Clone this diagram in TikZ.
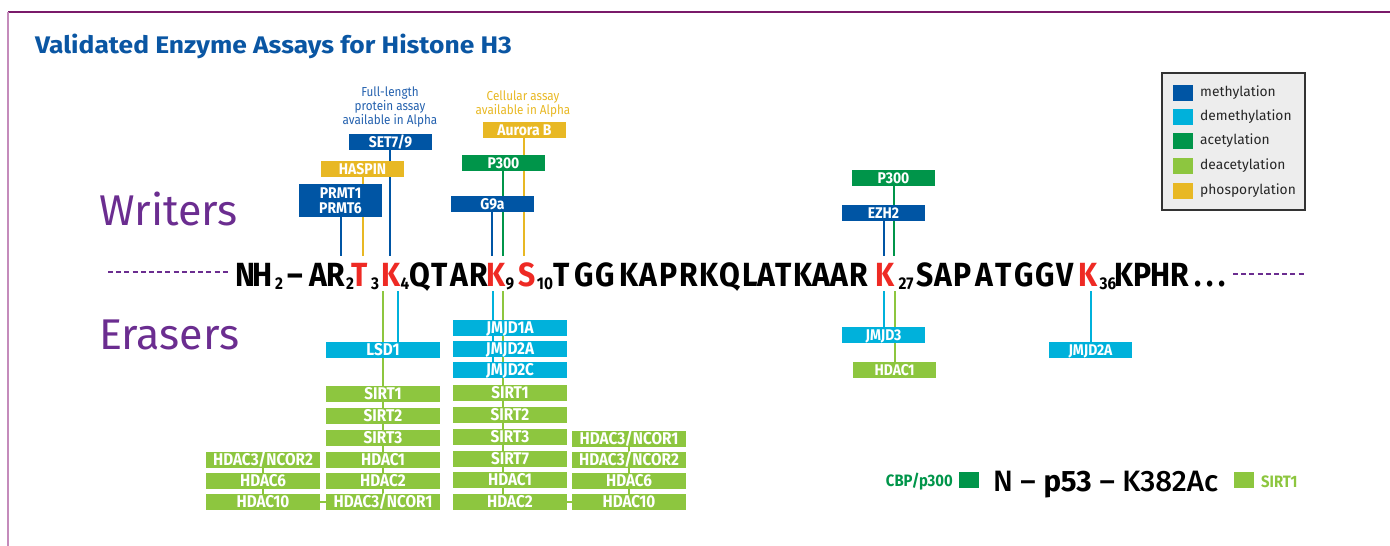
\documentclass[tikz,border=0pt]{standalone}
\usepackage{fontspec}
\setmainfont{Fira Sans}
\newfontfamily\seqf{Fira Sans}[FakeStretch=0.9]
\newfontfamily\labf{Fira Sans}[FakeStretch=0.9]
\newfontfamily\annf{Fira Sans}[FakeStretch=0.9]
\newfontfamily\titf{Fira Sans}[FakeStretch=1.1]
\newfontfamily\medf{Fira Sans Medium}
\usetikzlibrary{backgrounds}
\definecolor{cmeth}{HTML}{0055A4}
\definecolor{cdemeth}{HTML}{00B1DB}
\definecolor{cacet}{HTML}{00954A}
\definecolor{cdeacet}{HTML}{8DC63F}
\definecolor{cphos}{HTML}{E8B824}
\definecolor{cred}{HTML}{EE2A24}
\definecolor{cpurp}{HTML}{6B2D90}
\definecolor{ctitle}{HTML}{0A56A3}
\definecolor{cann}{HTML}{2461AE}
\definecolor{cframe}{HTML}{7A1A6A}
\definecolor{cframel}{HTML}{C48BBB}
\definecolor{clegbg}{HTML}{EDEDED}
\definecolor{cleg}{HTML}{333333}
\begin{document}
\begin{tikzpicture}[x=1pt,y=-1pt,
  lab/.style={rectangle,inner sep=0pt,text=white},
  wbox/.style={lab,minimum width=83pt,minimum height=16pt,font=\labf\bfseries\fontsize{15.5}{15.5}\selectfont,text height=10.7pt,text depth=0pt},
  ebox/.style={lab,minimum width=114pt,minimum height=16pt,font=\labf\bfseries\fontsize{17}{17}\selectfont,text height=11.7pt,text depth=0pt},
  sqn/.style={inner sep=0pt,anchor=base,font=\seqf\bfseries\fontsize{33.5}{33.5}\selectfont},
  sqr/.style={sqn,text=cred},
  sqs/.style={inner sep=0pt,anchor=base,yshift=-3.5pt,font=\seqf\bfseries\fontsize{17}{17}\selectfont},
  conn/.style={line width=1.8pt},
  dashl/.style={cpurp,line width=1.6pt,dash pattern=on 5pt off 3.2pt},
  legsq/.style={rectangle,inner sep=0pt,minimum width=20pt,minimum height=16pt},
  legtx/.style={anchor=west,inner sep=0pt,text=black!85,font=\fontsize{13.8}{14}\selectfont},
  annot/.style={inner sep=0pt,align=center,font=\annf\fontsize{13}{14}\selectfont}
]
\useasboundingbox (0,0) rectangle (1390,546);
% frame
\draw[cframe,line width=1.5pt] (8,12) -- (1390,12);
\draw[cframel,line width=2pt] (8,12) -- (8,546);

% title
\node[anchor=base west,inner sep=0pt,text=ctitle,font=\titf\bfseries\fontsize{24}{24}\selectfont] (title) at (35,53) {Validated Enzyme Assays for Histone H3};

% Writers / Erasers
\node[anchor=base west,inner sep=0pt,text=cpurp,font=\fontsize{43}{43}\selectfont] (writers) at (99,225) {Writers};
\node[anchor=base west,inner sep=0pt,text=cpurp,font=\fontsize{43}{43}\selectfont] (erasers) at (99,349) {Erasers};

% sequence
\foreach \t/\x/\s [count=\i] in {N/245/n,H/263/n,2/279/s,–/295/n,A/318/n,R/336/n,2/350/s,T/360/r,3/375/s,K/391/r,4/405/s,Q/420/n,T/440/n,A/459/n,R/479/n,K/496/r,9/510/s,S/527/r,10/545/s,T/562/n,G/584/n,G/605/n,K/629/n,A/648/n,P/669/n,R/689/n,K/709/n,Q/730/n,L/750/n,A/766/n,T/784/n,K/803/n,A/821/n,A/839/n,R/859/n,K/885/r,27/906/s,S/925/n,A/943/n,P/963/n,A/984/n,T/1004/n,G/1024/n,G/1045/n,V/1065/n,K/1088/r,36/1108/s,K/1124/n,P/1143/n,H/1161/n,R/1180/n}
  {\node[sq\s] (q\i) at (\x,286) {\t};}
\node[sqn] (qdots) at (1210,286) {.\kern5pt.\kern5pt.};

% dashed ends
\coordinate (dlA) at (108,272);
\coordinate (dlB) at (228,272);
\coordinate (drA) at (1233,274);
\coordinate (drB) at (1305,274);
\draw[dashl] (dlA) -- (dlB);
\draw[dashl] (drA) -- (drB);

% annotations
\node[annot,text=cann] (ann1) at (390,107) {Full-length\\protein assay\\available in Alpha};
\node[annot,text=cphos] (ann2) at (523,104) {Cellular assay\\available in Alpha};

% writers boxes
\node[wbox,fill=cmeth] (set79) at (390.5,142) {SET7/9};
\node[wbox,fill=cphos] (haspin) at (362.5,169) {HASPIN};
\node[lab,fill=cmeth,minimum width=83pt,minimum height=33pt,align=center,font=\labf\bfseries\fontsize{15.5}{15}\selectfont] (prmt) at (340.5,200.5) {PRMT1\\PRMT6};
\node[wbox,fill=cphos] (aurora) at (524.5,130) {Aurora B};
\node[wbox,fill=cacet] (p300a) at (503.5,163) {P300};
\node[wbox,fill=cmeth] (g9a) at (492.5,204) {G9a};
\node[wbox,fill=cacet] (p300b) at (893.5,178) {P300};
\node[wbox,fill=cmeth] (ezh2) at (883.5,213) {EZH2};

% erasers K4
\node[ebox,fill=cdemeth] (lsd1) at (383,350) {LSD1};
\node[ebox,fill=cdeacet] (sirt1a) at (383,394) {SIRT1};
\node[ebox,fill=cdeacet] (sirt2a) at (383,415.5) {SIRT2};
\node[ebox,fill=cdeacet] (sirt3a) at (383,438) {SIRT3};
\node[ebox,fill=cdeacet] (hdac1a) at (383,460) {HDAC1};
\node[ebox,fill=cdeacet] (hdac2a) at (383,481) {HDAC2};
\node[ebox,fill=cdeacet] (hdac31a) at (383,502) {HDAC3/NCOR1};
\node[ebox,fill=cdeacet] (hdac32l) at (263,460) {HDAC3/NCOR2};
\node[ebox,fill=cdeacet] (hdac6l) at (263,481) {HDAC6};
\node[ebox,fill=cdeacet] (hdac10l) at (263,502) {HDAC10};
% erasers K9
\node[ebox,fill=cdemeth] (jmjd1a) at (510,328) {JMJD1A};
\node[ebox,fill=cdemeth] (jmjd2a) at (510,349) {JMJD2A};
\node[ebox,fill=cdemeth] (jmjd2c) at (510,370) {JMJD2C};
\node[ebox,fill=cdeacet] (sirt1b) at (510,393) {SIRT1};
\node[ebox,fill=cdeacet] (sirt2b) at (510,415) {SIRT2};
\node[ebox,fill=cdeacet] (sirt3b) at (510,437) {SIRT3};
\node[ebox,fill=cdeacet] (sirt7b) at (510,459) {SIRT7};
\node[ebox,fill=cdeacet] (hdac1b) at (510,480) {HDAC1};
\node[ebox,fill=cdeacet] (hdac2b) at (510,502) {HDAC2};
\node[ebox,fill=cdeacet] (hdac31r) at (629,439) {HDAC3/NCOR1};
\node[ebox,fill=cdeacet] (hdac32r) at (629,460) {HDAC3/NCOR2};
\node[ebox,fill=cdeacet] (hdac6r) at (629,481) {HDAC6};
\node[ebox,fill=cdeacet] (hdac10r) at (629,502) {HDAC10};
% erasers K27 / K36
\node[wbox,fill=cdemeth] (jmjd3) at (883.5,335) {JMJD3};
\node[wbox,fill=cdeacet] (hdac1c) at (894.5,370) {HDAC1};
\node[wbox,fill=cdemeth] (jmjd2ak) at (1090.5,350) {JMJD2A};

% legend
\node[draw=cleg,fill=clegbg,line width=1.4pt,minimum width=143pt,minimum height=137pt,inner sep=0pt] (leg) at (1233.5,141.5) {};
\foreach \c/\t/\y [count=\i] in {cmeth/methylation/93,cdemeth/demethylation/117,cacet/acetylation/141,cdeacet/deacetylation/166,cphos/phosporylation/191}
  {\node[legsq,fill=\c] (ls\i) at (1183,\y) {};
   \node[legtx] (lt\i) at (1200,\y) {\t};}

% p53
\node[anchor=east,inner sep=0pt,text=cacet,font=\labf\bfseries\fontsize{16.5}{16}\selectfont] (cbp) at (953,482) {CBP/p300};
\node[legsq,fill=cacet] (sqa) at (969,480) {};
\node[anchor=base west,inner sep=0pt,font=\fontsize{29.5}{29}\selectfont] (p53) at (993,491) {{\medf N –} \textbf{p53} {\medf – K382Ac}};
\node[legsq,fill=cdeacet] (sqb) at (1244,480) {};
\node[anchor=west,inner sep=0pt,text=cdeacet,font=\labf\bfseries\fontsize{16.5}{16}\selectfont] (sirt) at (1261,482) {SIRT1};

% connectors
\coordinate (uR2) at (341,256);
\coordinate (uT3) at (363,256);
\coordinate (uK4) at (390,256);
\coordinate (uK9a) at (492,256);
\coordinate (uK9b) at (503,256);
\coordinate (uS10) at (524,256);
\coordinate (uK27a) at (884,256);
\coordinate (uK27b) at (894,256);
\coordinate (dK4g) at (383,291);
\coordinate (dK4c) at (398,291);
\coordinate (dK9c) at (493,291);
\coordinate (dK9g) at (503,291);
\coordinate (dK27c) at (884,291);
\coordinate (dK27g) at (895,291);
\coordinate (dK36) at (1091,291);
\begin{pgfonlayer}{background}
\draw[conn,cmeth] (prmt.south -| uR2) -- (uR2);
\draw[conn,cphos] (haspin.south -| uT3) -- (uT3);
\draw[conn,cmeth] (set79.south -| uK4) -- (uK4);
\draw[conn,cmeth] (g9a.south -| uK9a) -- (uK9a);
\draw[conn,cacet] (p300a.south -| uK9b) -- (uK9b);
\draw[conn,cphos] (aurora.south -| uS10) -- (uS10);
\draw[conn,cmeth] (ezh2.south -| uK27a) -- (uK27a);
\draw[conn,cacet] (p300b.south -| uK27b) -- (uK27b);
\draw[conn,cdeacet] (dK4g) -- (dK4g |- hdac31a.center);
\draw[conn,cdemeth] (dK4c) -- (dK4c |- lsd1.north);
\draw[conn,cdemeth] (dK9c) -- (dK9c |- jmjd2c.center);
\draw[conn,cdeacet] (dK9g) -- (dK9g |- hdac2b.center);
\draw[conn,cdemeth] (dK27c) -- (dK27c |- jmjd3.north);
\draw[conn,cdeacet] (dK27g) -- (dK27g |- hdac1c.south);
\draw[conn,cdemeth] (dK36) -- (dK36 |- jmjd2ak.north);
\draw[conn,cdeacet] (hdac32l.center) -- (hdac10l.center);
\draw[conn,cdeacet] (hdac10l.east) -- (hdac31a.west);
\draw[conn,cdeacet] (hdac31r.center) -- (hdac10r.center);
\draw[conn,cdeacet] (hdac2b.east) -- (hdac10r.west);
\end{pgfonlayer}
\end{tikzpicture}
\end{document}
